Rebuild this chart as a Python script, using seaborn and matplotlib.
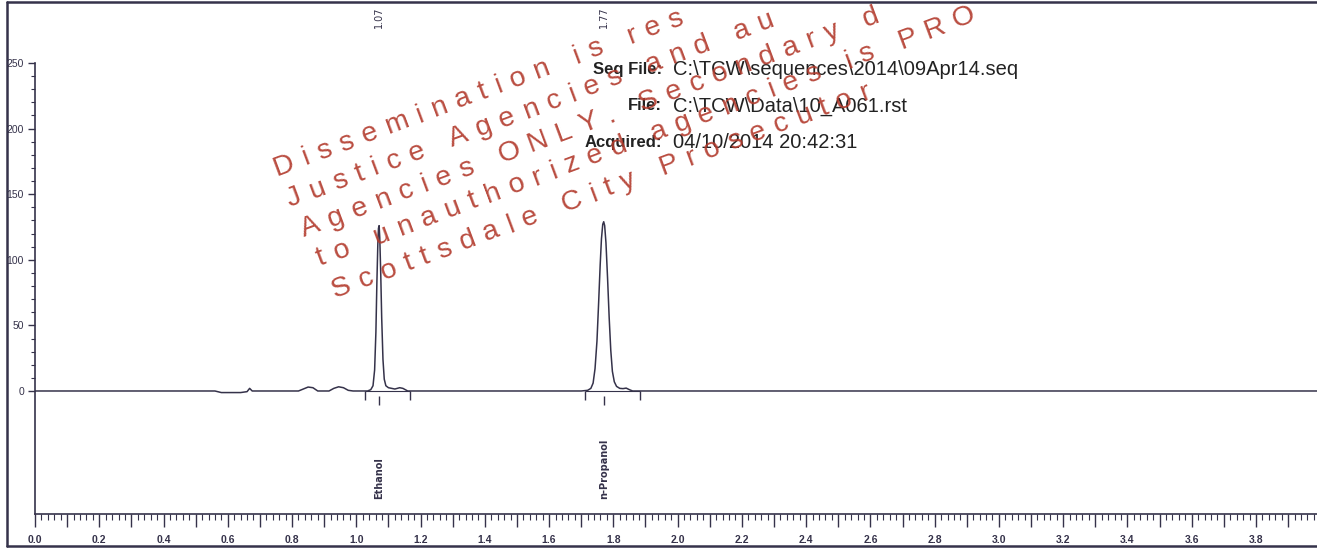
import matplotlib
matplotlib.use("Agg")
import numpy as np
import pandas as pd
import matplotlib.pyplot as plt
import seaborn as sns
from matplotlib.ticker import MultipleLocator, FixedLocator, FuncFormatter
from matplotlib.font_manager import FontProperties
from matplotlib.textpath import TextToPath
from matplotlib.lines import Line2D

# chromatogram trace (time in min, detector signal)
time_min = [0.00, 0.56, 0.58, 0.64, 0.66, 0.668, 0.676, 0.82, 0.835, 0.85, 0.865, 0.88,
            0.915, 0.93, 0.945, 0.96, 0.975, 0.99, 1.035, 1.045, 1.052, 1.057, 1.061,
            1.064, 1.067, 1.069, 1.071, 1.073, 1.076, 1.079, 1.083, 1.087, 1.092, 1.10,
            1.12, 1.135, 1.145, 1.16, 1.70, 1.72, 1.73, 1.737, 1.743, 1.749, 1.754,
            1.759, 1.763, 1.767, 1.770, 1.773, 1.777, 1.782, 1.787, 1.792, 1.797,
            1.803, 1.81, 1.82, 1.83, 1.84, 1.85, 1.86, 4.00]
signal = [0, 0, -1.2, -1.2, -0.5, 2.0, 0, 0, 1.5, 3.0, 2.5, 0,
          0, 2.0, 3.2, 2.5, 0.5, 0, 0, 1, 4, 16, 45,
          82, 112, 124, 126, 117, 90, 56, 24, 9, 4, 2.5,
          1.5, 2.5, 2, 0, 0, 0.5, 2, 6, 17, 38, 66,
          96, 116, 127, 129, 126, 113, 86, 56, 31, 15,
          7, 3.5, 2, 1.8, 2.2, 1, 0, 0]

peak_names = ["Ethanol", "n-Propanol"]
peak_times = [1.07, 1.77]
rt_labels = ["1.07", "1.77"]
int_start = [1.026, 1.712]
int_end = [1.166, 1.883]

header_keys = ["Seq File:", "File:", "Acquired:"]
header_vals = ["C:\\TCW\\sequences\\2014\\09Apr14.seq",
               "C:\\TCW\\Data\\10_A061.rst",
               "04/10/2014 20:42:31"]

watermark = ["Dissemination is restricted to Criminal",
             "Justice Agencies and authorized",
             "Agencies ONLY. Secondary dissemination",
             "to unauthorized agencies is PROHIBITED",
             "Scottsdale City Prosecutor"]

sns.set_theme(style="white")
plt.rcParams["font.family"] = ["Liberation Sans", "DejaVu Sans"]

W, H = 1317, 550
ink = "#35324a"
fig = plt.figure(figsize=(W / 100, H / 100), dpi=100)
fig.patch.set_facecolor("white")

# axes placed in pixels: left spine x=35, x-axis y=514, baseline y=391
ax = fig.add_axes([35 / W, 1 - 514 / H, 1 - 35 / W, (514 - 3) / H])
ax.set_facecolor("none")

df = pd.DataFrame({"time": time_min, "signal": signal})
sns.lineplot(data=df, x="time", y="signal", ax=ax, color=ink, linewidth=1.1,
             estimator=None, sort=False, zorder=3)

# integration baseline and marks
ax.hlines([0] * len(int_start), int_start, int_end, color=ink, linewidth=0.8, zorder=2)
ax.vlines(int_start + int_end, -7, 0, color=ink, linewidth=1.0)
ax.vlines(peak_times, -11, -4, color=ink, linewidth=1.0)

for t, name, rt in zip(peak_times, peak_names, rt_labels):
    ax.text(t, -82, name, rotation=90, ha="center", va="bottom",
            fontsize=7, fontweight="bold", color=ink, family="DejaVu Sans")
    ax.text(t, 293, rt, rotation=90, ha="center", va="top",
            fontsize=7, color=ink, family="DejaVu Sans")

ax.set_xlim(0, 3.99)
ax.set_ylim(-93.75, 295.7)
ax.set_xlabel("")
ax.set_ylabel("")
sns.despine(ax=ax, top=True, right=True)
ax.spines["left"].set_bounds(-93.75, 250)
for s in ["left", "bottom"]:
    ax.spines[s].set_color(ink)
    ax.spines[s].set_linewidth(1.2)

ax.xaxis.set_major_locator(MultipleLocator(0.1))
ax.xaxis.set_minor_locator(MultipleLocator(0.02))
ax.xaxis.set_major_formatter(FuncFormatter(
    lambda v, p: f"{v:.1f}" if round(v * 10) % 2 == 0 else ""))
ax.yaxis.set_major_locator(FixedLocator(np.arange(0, 251, 50)))
ax.yaxis.set_minor_locator(FixedLocator(np.arange(0, 251, 10)))
ax.tick_params(axis="x", which="major", direction="out", length=9, width=1,
               color=ink, labelsize=7.5, pad=6, labelcolor=ink, bottom=True)
ax.tick_params(axis="x", which="minor", direction="out", length=4, width=0.8,
               color=ink, bottom=True)
ax.tick_params(axis="y", which="major", direction="out", length=5, width=1,
               color=ink, labelsize=7.5, pad=3, labelcolor=ink, left=True)
ax.tick_params(axis="y", which="minor", direction="out", length=3, width=0.8,
               color=ink, left=True)
for lab in ax.get_xticklabels():
    lab.set_fontweight("bold")

# outer frame of the printout
for (x0, y0, x1, y1) in [(7, 2, 7, 546), (7, 2, W, 2), (7, 546, W, 546)]:
    fig.add_artist(Line2D([x0 / W, x1 / W], [1 - y0 / H, 1 - y1 / H],
                          color=ink, linewidth=1.8, transform=fig.transFigure))

# header block
for i, (k, v) in enumerate(zip(header_keys, header_vals)):
    y = 1 - (70 + 36 * i) / H
    fig.text(662 / W, y, k, ha="right", va="center", fontsize=12,
             fontweight="bold", color="#222222")
    fig.text(673 / W, y, v, ha="left", va="center", fontsize=14.5,
             color="#222222")

# watermark stamped over the page, letters tracked out
wm_size = 20.5
wm_rot = 20.5
wm_font = FontProperties(family="Liberation Sans", size=wm_size)
ttp = TextToPath()
angle = np.deg2rad(wm_rot)
tracking = 9.5
starts = [(277, 176), (290, 207), (304, 237), (320, 266), (335, 298)]
wm_texts = []
for line, (sx, sy) in zip(watermark, starts):
    pos = 0.0
    for ch in line:
        px = sx + pos * np.cos(angle)
        py = sy - pos * np.sin(angle)
        if ch != " ":
            wm_texts.append(fig.text(px / W, 1 - py / H, ch, fontproperties=wm_font,
                                     rotation=wm_rot, rotation_mode="anchor",
                                     ha="left", va="baseline", color="#b23a2c",
                                     alpha=0.9, zorder=10))
            w, h, d = ttp.get_text_width_height_descent(ch, wm_font, ismath=False)
            adv = w * 100 / 72
        else:
            adv = 0.278 * wm_size * 100 / 72
        pos += adv + tracking

# letters running past the page edge are dropped
fig.canvas.draw()
renderer = fig.canvas.get_renderer()
for t in wm_texts:
    bb = t.get_window_extent(renderer)
    if bb.y1 > H - 1 or bb.x1 > W - 1:
        t.remove()

fig.savefig("out.png", dpi=100)
